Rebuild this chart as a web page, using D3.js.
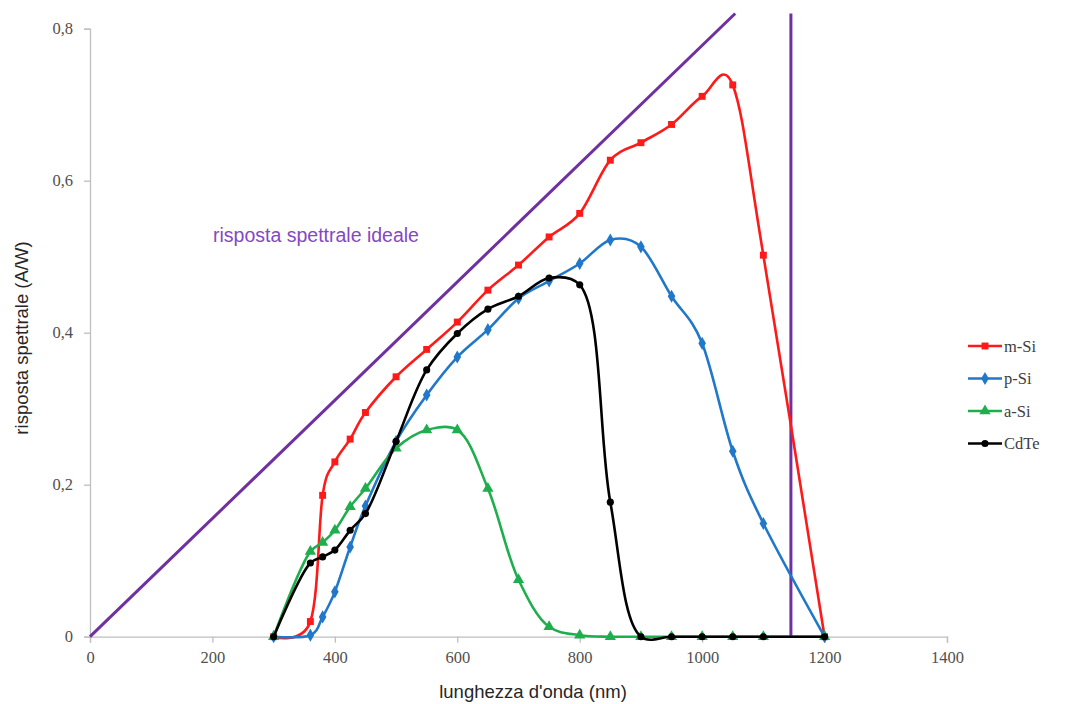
<!DOCTYPE html>
<meta charset="utf-8">
<head>
  <script src="https://d3js.org/d3.v7.min.js"></script>
</head>
<style>
  body { margin: 0; background: #fff; }
  .tick text { font-family: "Liberation Serif", "Times New Roman", serif; font-size: 16.5px; fill: #505050; }
  .domain, .tick line { stroke: #bfbfbf; stroke-width: 1.3; }
</style>
<body>
<script>
// wavelength (nm) for each measured point
var lambda = [300, 360, 380, 400, 425, 450, 500, 550, 600, 650, 700, 750, 800, 850, 900, 950, 1000, 1050, 1100, 1200];

// spectral response (A/W)
var mSi  = [0, 0.02, 0.186, 0.23, 0.26, 0.295, 0.342, 0.378, 0.414, 0.456, 0.489, 0.526, 0.557, 0.627, 0.65, 0.674, 0.711, 0.726, 0.502, 0];
var pSi  = [0, 0.002, 0.026, 0.059, 0.118, 0.172, 0.257, 0.318, 0.368, 0.404, 0.445, 0.468, 0.491, 0.522, 0.513, 0.448, 0.386, 0.244, 0.149, 0];
var aSi  = [0, 0.112, 0.124, 0.14, 0.171, 0.195, 0.248, 0.272, 0.272, 0.195, 0.075, 0.013, 0.002, 0, 0, 0, 0, 0, 0, 0];
var cdTe = [0, 0.097, 0.105, 0.114, 0.14, 0.162, 0.257, 0.351, 0.399, 0.431, 0.448, 0.472, 0.463, 0.177, 0, 0, 0, 0, 0, 0];

// ideal response: ramp and cut-off
var idealRamp = [[0, 0], [1054, 0.82]];
var idealCut = [[1145, 0], [1145, 0.82]];

var xTicks = [0, 200, 400, 600, 800, 1000, 1200, 1400];
var yTicks = [0, 0.2, 0.4, 0.6, 0.8];

var series = [
  { name: "m-Si", values: mSi, color: "#ff1a1a", symbol: d3.symbolSquare, size: 48, curve: d3.curveCardinal.tension(0) },
  { name: "p-Si", values: pSi, color: "#2178c9", symbol: d3.symbolDiamond, size: 50, curve: d3.curveCardinal.tension(0) },
  { name: "a-Si", values: aSi, color: "#1fae4e", symbol: d3.symbolTriangle, size: 55, curve: d3.curveCatmullRom.alpha(0.5) },
  { name: "CdTe", values: cdTe, color: "#000000", symbol: d3.symbolCircle, size: 40, curve: d3.curveCatmullRom.alpha(0.5) }
];

var svg = d3.select("body").append("svg")
  .attr("width", 1070)
  .attr("height", 704);

var x = d3.scaleLinear().domain([0, 1400]).range([90, 947]);
var y = d3.scaleLinear().domain([0, 0.8]).range([636.7, 28.7]);

// assi
svg.append("g")
  .attr("transform", "translate(0," + y(0) + ")")
  .call(d3.axisBottom(x).tickValues(xTicks).tickSize(6).tickPadding(9).tickFormat(d3.format("d")));

svg.append("g")
  .attr("transform", "translate(" + x(0) + ",0)")
  .call(d3.axisLeft(y).tickValues(yTicks).tickSize(6).tickPadding(11)
    .tickFormat(function (d) { return d === 0 ? "0" : d3.format(".1f")(d).replace(".", ","); }));

// risposta ideale
var straight = d3.line().x(function (d) { return x(d[0]); }).y(function (d) { return y(d[1]); });
svg.append("path").attr("d", straight(idealRamp))
  .attr("fill", "none").attr("stroke", "#7030a0").attr("stroke-width", 3);
svg.append("path").attr("d", straight(idealCut))
  .attr("fill", "none").attr("stroke", "#7030a0").attr("stroke-width", 3);

svg.append("text")
  .attr("x", 213).attr("y", 242)
  .attr("font-family", "Liberation Sans, Arial, sans-serif")
  .attr("font-size", 19.5)
  .attr("fill", "#8548c4")
  .text("risposta spettrale ideale");

// curve delle celle
series.forEach(function (s) {
  var smooth = d3.line()
    .x(function (d, i) { return x(lambda[i]); })
    .y(function (d) { return y(d); })
    .curve(s.curve);

  svg.append("path")
    .attr("d", smooth(s.values))
    .attr("fill", "none")
    .attr("stroke", s.color)
    .attr("stroke-width", 2.6);

  svg.append("g").selectAll("path")
    .data(s.values)
    .enter().append("path")
    .attr("transform", function (d, i) { return "translate(" + x(lambda[i]) + "," + y(d) + ")"; })
    .attr("d", d3.symbol().type(s.symbol).size(s.size))
    .attr("fill", s.color);
});

// legenda
var legend = svg.append("g").selectAll("g")
  .data(series)
  .enter().append("g")
  .attr("transform", function (d, i) { return "translate(968," + (346 + i * 32.5) + ")"; });

legend.append("line")
  .attr("x1", 0).attr("x2", 34)
  .attr("stroke", function (d) { return d.color; })
  .attr("stroke-width", 2.6);

legend.append("path")
  .attr("transform", "translate(17,0)")
  .attr("d", function (d) { return d3.symbol().type(d.symbol).size(d.size)(); })
  .attr("fill", function (d) { return d.color; });

legend.append("text")
  .attr("x", 36).attr("dy", "0.35em")
  .attr("font-family", "Liberation Serif, Times New Roman, serif")
  .attr("font-size", 16.5)
  .attr("fill", "#404040")
  .text(function (d) { return d.name; });

// titoli degli assi
svg.append("text")
  .attr("x", 533).attr("y", 698)
  .attr("text-anchor", "middle")
  .attr("font-family", "Liberation Sans, Arial, sans-serif")
  .attr("font-size", 18.5)
  .attr("fill", "#262626")
  .text("lunghezza d'onda (nm)");

svg.append("text")
  .attr("transform", "translate(28,338) rotate(-90)")
  .attr("text-anchor", "middle")
  .attr("font-family", "Liberation Sans, Arial, sans-serif")
  .attr("font-size", 18.5)
  .attr("fill", "#262626")
  .text("risposta spettrale (A/W)");
</script>
</body>
